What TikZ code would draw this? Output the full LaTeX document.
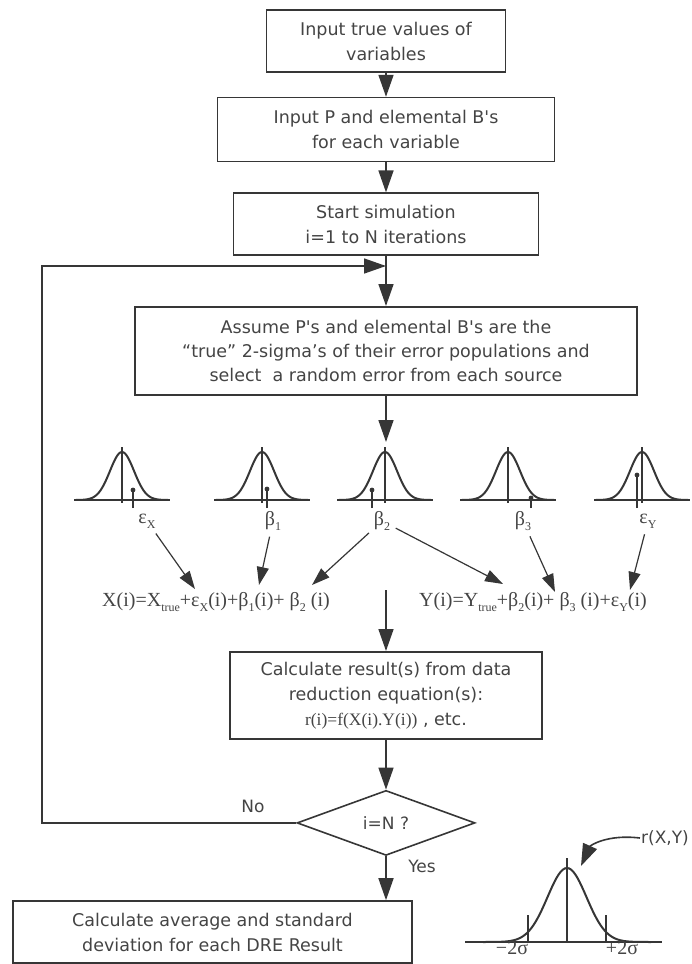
\documentclass[tikz,border=0pt]{standalone}
\usepackage{fontspec}
\setmainfont{DejaVu Sans}
\newfontfamily\eqfont{Liberation Serif}
\usetikzlibrary{arrows.meta,positioning,shapes.geometric}
\definecolor{ink}{HTML}{363636}
\definecolor{inktext}{HTML}{444444}
\newcommand{\lo}[1]{\raisebox{-0.55ex}{\fontsize{12}{12}\selectfont #1}}

\begin{document}
\begin{tikzpicture}[x=1pt,y=-1pt,>={Triangle[length=22pt,width=15pt]},
    every node/.style={text=inktext},
    stepbox/.style={draw=ink,line width=1.6pt,align=center,inner sep=0pt,
                    font=\fontsize{17.5}{25}\selectfont},
    decide/.style={draw=ink,line width=1.6pt,diamond,aspect=2.7,inner sep=0pt,
                   minimum width=178pt,minimum height=65pt,font=\fontsize{17}{20}\selectfont},
    eqtext/.style={font=\eqfont\fontsize{20}{22}\selectfont,inner sep=1pt},
    tag/.style={font=\fontsize{17}{20}\selectfont,inner sep=1pt},
    flow/.style={draw=ink,line width=1.6pt,->},
    slim/.style={draw=ink,line width=1.2pt,-{Triangle[length=18pt,width=12pt]},shorten <=5pt},
    curve/.style={draw=ink,line width=2pt},
    axis/.style={draw=ink,line width=1.2pt}]
    \useasboundingbox (0,0) rectangle (691,964);

    % set-up boxes
    \node[stepbox,minimum width=239pt,minimum height=62pt] (inp) at (386,41)
        {Input true values of\\variables};
    \node[stepbox,minimum width=337pt,minimum height=64pt,below=24pt of inp] (pb)
        {Input P and elemental B\textquotesingle s\\for each variable};
    \node[stepbox,minimum width=305pt,minimum height=62pt,below=30pt of pb] (sim)
        {Start simulation\\i=1 to N iterations};
    \node[stepbox,minimum width=502pt,minimum height=88pt,below=50pt of sim,
          font=\fontsize{17.5}{24}\selectfont] (pick)
        {Assume P\textquotesingle s and elemental B\textquotesingle s are the\\
         “true” 2-sigma’s of their error populations and\\
         select\ \ a random error from each source};
    \draw[flow] (inp) -- (pb);
    \draw[flow] (pb) -- (sim);
    \draw[flow] (sim) -- (pick);
    \coordinate (into) at (386,442);
    \draw[flow] (pick) -- (into);

    % error distributions
    \foreach \cx/\sx/\dy/\lx/\nm/\lb in {122/133/490/147/ex/{ε\lo{X}},
            262/267/489/273/bo/{β\lo{1}}, 385/372/490/382/bt/{β\lo{2}},
            508/531/498/523/bh/{β\lo{3}}, 642/637/475/648/ey/{ε\lo{Y}}} {
        \draw[curve,domain=-46:46,samples=61]
            plot ({\cx+\x},{500-48*exp(-0.5*(\x/12)*(\x/12))});
        \draw[axis] (\cx-48,500) -- (\cx+48,500);
        \draw[axis] (\cx,447) -- (\cx,503);
        \draw[axis] (\sx,508) -- (\sx,\dy);
        \fill[ink] (\sx,\dy) circle (2.4pt);
        \node[eqtext] (\nm) at (\lx,521) {\lb};
    }

    % the two variables
    \node[eqtext] (xeq) at (216,602)
        {X(i)=X\lo{true}+ε\lo{X}(i)+β\lo{1}(i)+ β\lo{2} (i)};
    \node[eqtext] (yeq) at (533,602)
        {Y(i)=Y\lo{true}+β\lo{2}(i)+ β\lo{3} (i)+ε\lo{Y}(i)};
    \coordinate (t1) at (195,589);
    \coordinate (t2) at (259,585);
    \coordinate (t3) at (312,585);
    \coordinate (t4) at (503,584);
    \coordinate (t5) at (555,592);
    \coordinate (t6) at (630,590);
    \draw[slim] (ex) -- (t1);
    \draw[slim] (bo) -- (t2);
    \draw[slim] (bt) -- (t3);
    \draw[slim] (bt) -- (t4);
    \draw[slim] (bh) -- (t5);
    \draw[slim] (ey) -- (t6);

    % result and loop test
    \coordinate (fromeq) at (386,590);
    \node[stepbox,minimum width=312pt,minimum height=87pt,below=61pt of fromeq] (calc)
        {Calculate result(s) from data\\reduction equation(s):\\
         {\eqfont r(i)=f(X(i).Y(i))}\ , etc.};
    \draw[flow] (fromeq) -- (calc);
    \node[decide,below=50pt of calc] (cond) {i=N ?};
    \draw[flow] (calc) -- (cond);
    \node[stepbox,minimum width=399pt,minimum height=62pt] (avg) at (212.5,932)
        {Calculate average and standard\\deviation for each DRE Result};
    \draw[flow] (cond) -- (cond |- avg.north);
    \node[tag] (no) at (253,806) {No};
    \node[tag] (yes) at (422,866) {Yes};
    \coordinate (corner) at (42,266);
    \coordinate (join) at (386,266);
    \draw[flow] (cond.west) -| (corner) -- (join);

    % distribution of the result
    \draw[curve,domain=-84:84,samples=81]
        plot ({567+\x},{942-74*exp(-0.5*(\x/19.5)*(\x/19.5))});
    \draw[axis] (465,942) -- (662,942);
    \draw[axis] (567,858) -- (567,943);
    \draw[axis] (528,915) -- (528,942);
    \draw[axis] (606,915) -- (606,942);
    \node[eqtext] (lo2) at (512,948) {−2σ};
    \node[eqtext] (hi2) at (622,948) {+2σ};
    \node[tag] (rxy) at (665,838) {r(X,Y)};
    \coordinate (pk) at (581,866);
    \draw[flow] (rxy.west) .. controls (606,834) and (590,846) .. (pk);
\end{tikzpicture}
\end{document}
